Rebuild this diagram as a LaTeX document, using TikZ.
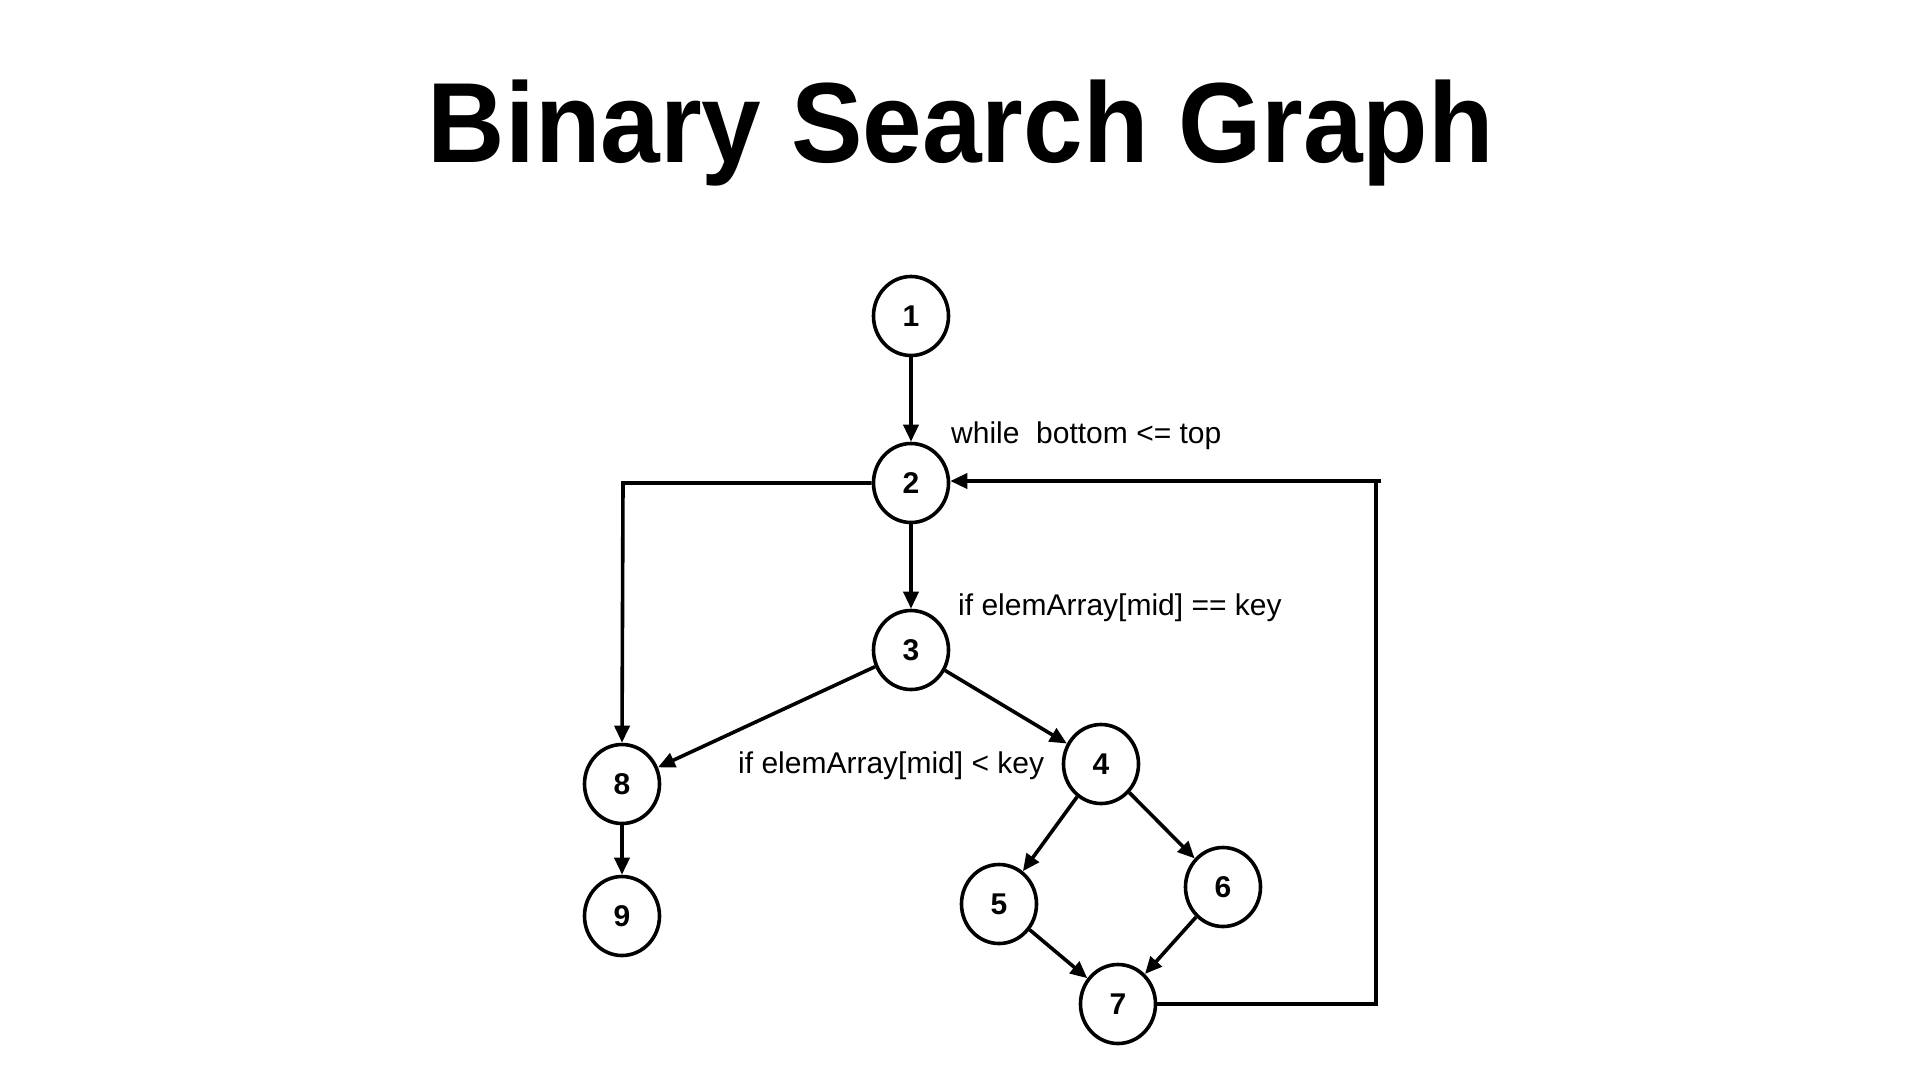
\documentclass[tikz,border=0pt]{standalone}
\usepackage{fontspec}
\setmainfont{Liberation Sans}
\usetikzlibrary{arrows.meta,shapes.geometric}
\begin{document}
\begin{tikzpicture}[x=1pt,y=-1pt,
  vertex/.style={ellipse,draw,line width=3.6pt,inner sep=0pt,
    minimum width=75pt,minimum height=79pt,
    font=\fontsize{30}{32}\selectfont\bfseries},
  flow/.style={line width=3.6pt,-{Triangle[length=17pt,width=15pt]}},
  plain/.style={line width=3.6pt},
  cond/.style={anchor=base west,inner sep=0pt,font=\fontsize{30}{34}\selectfont}]
  % page frame
  \fill[white] (0,0) rectangle (1920,1080);
  \useasboundingbox (0,0) rectangle (1920,1080);

  % heading
  \node[anchor=base,inner sep=0pt,font=\fontsize{114}{130}\selectfont\bfseries]
    (title) at (961,162) {\scalebox{0.94}[1]{Binary Search Graph}};

  % control-flow vertices
  \node[vertex] (n1) at (911,316) {1};
  \node[vertex] (n2) at (911,483) {2};
  \node[vertex] (n3) at (911,650) {3};
  \node[vertex] (n4) at (1101,764) {4};
  \node[vertex] (n5) at (999,904) {5};
  \node[vertex] (n6) at (1223,887) {6};
  \node[vertex] (n7) at (1118,1004) {7};
  \node[vertex] (n8) at (622,784) {8};
  \node[vertex] (n9) at (622,916) {9};

  % branch conditions
  \node[cond] (c2) at (951,443) {while\ \ bottom <= top};
  \node[cond] (c3) at (958,615) {if elemArray[mid] == key};
  \node[cond] (c4) at (738,773) {if elemArray[mid] < key};

  % routing points
  \coordinate (exitL) at (623,483);
  \coordinate (loopB) at (1376,1004);
  \coordinate (loopT) at (1376,481);
  \coordinate (loopR) at (1381,481);

  % edges
  \draw[flow] (n1) -- (n2);
  \draw[flow] (n2) -- (n3);
  \draw[flow] (n2.west) -- (exitL) -- (n8.north);
  \draw[flow] (n3) -- (n8);
  \draw[flow] (n3) -- (n4);
  \draw[flow] (n4) -- (n5);
  \draw[flow] (n4) -- (n6);
  \draw[flow] (n5) -- (n7);
  \draw[flow] (n6) -- (n7);
  \draw[flow] (n8) -- (n9);
  \draw[plain] (n7.east) -- (loopB) -- (loopT);
  \draw[flow] (loopR) -- (loopR -| n2.east);
\end{tikzpicture}
\end{document}
